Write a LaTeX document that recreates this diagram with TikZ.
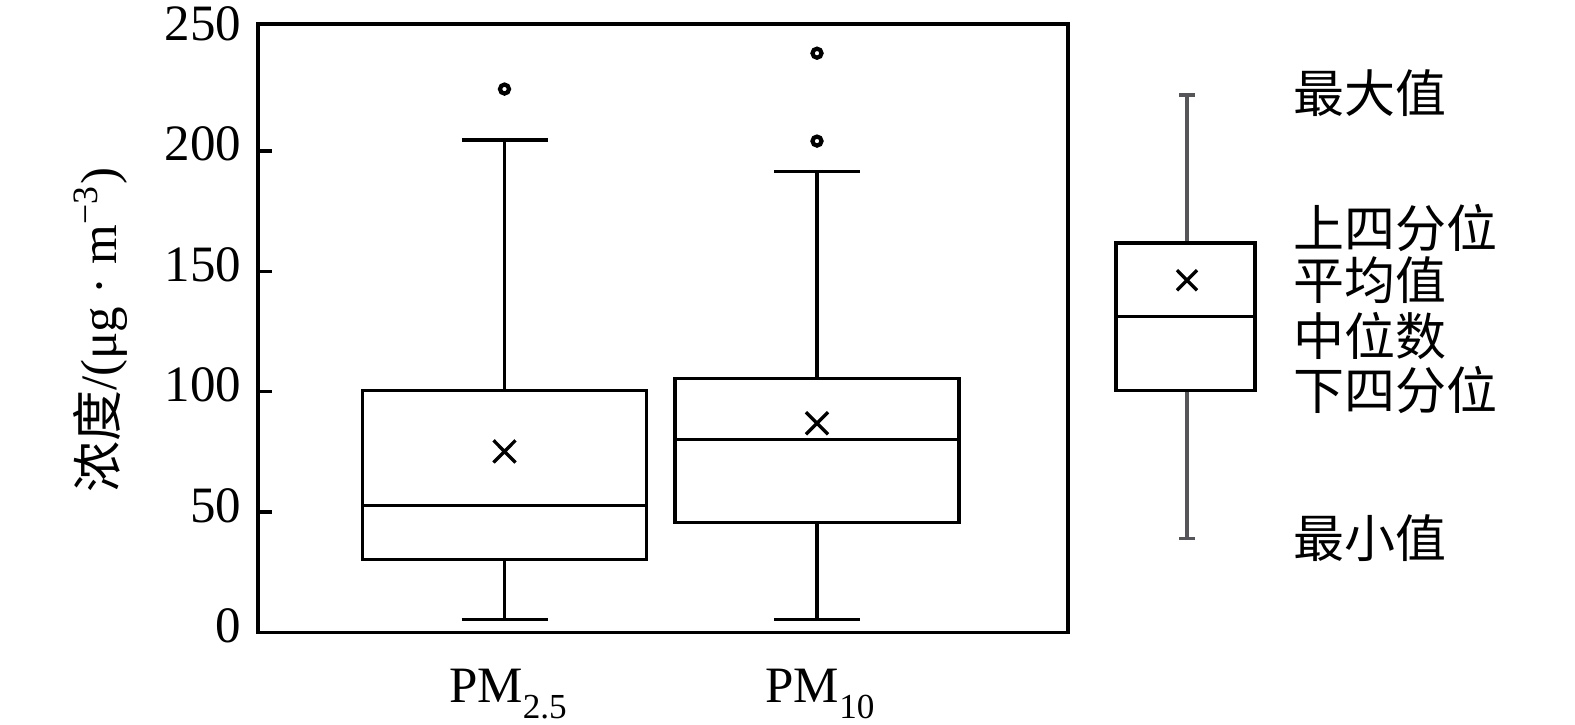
\documentclass[tikz,border=0pt]{standalone}
\usepackage{fontspec}
\setmainfont{Liberation Serif}
\newfontfamily\cjk{Noto Sans CJK SC}
\definecolor{whiskgray}{RGB}{85,85,90}

\begin{document}
\begin{tikzpicture}[x=0.01cm, y=0.02406cm, line width=0.95pt,
  lab/.style={font=\fontsize{14.5}{17}\selectfont, inner sep=0pt},
  leg/.style={font=\cjk\fontsize{14.5}{17}\selectfont, inner sep=0pt, anchor=west}]
\useasboundingbox (0,-38.2) rectangle (1575,262.7);
\coordinate (O) at (258,0);
\coordinate (T) at (1068,252.7);
\draw (O) rectangle (T);
\foreach \v in {50,100,150,200} \draw (258,\v)--(272,\v);
\foreach \v in {0,50,...,250} \node[lab, anchor=east] (tick\v) at (243,\v+2.8) {\v};
% boxes: name/x/min/q1/median/mean/q3/max
\foreach \n/\x/\lo/\qa/\md/\mn/\qb/\hi in {a/504.5/5.4/30.3/52.8/75.2/100.6/204.5, b/817/5.4/45.7/80.2/86.9/105.6/191.6}{
  \draw (\x-142,\qa) rectangle (\x+142,\qb);
  \draw (\x-142,\md)--(\x+142,\md);
  \draw (\x,\qa)--(\x,\lo) (\x-43,\lo)--(\x+43,\lo);
  \draw (\x,\qb)--(\x,\hi) (\x-43,\hi)--(\x+43,\hi);
  \draw (\x-11,\mn-4.6)--(\x+11,\mn+4.6) (\x-11,\mn+4.6)--(\x+11,\mn-4.6);
}
\foreach \x/\v in {504.5/225.7, 817/240.6, 817/204.1} \draw[line width=1.2pt] (\x,\v) circle[radius=0.045cm];
\node[lab, anchor=base] (pm25) at (508,-29.1) {PM\raisebox{-0.32em}{\fontsize{10}{12}\selectfont 2.5}};
\node[lab, anchor=base] (pm10) at (820,-29.1) {PM\raisebox{-0.32em}{\fontsize{10}{12}\selectfont 10}};
\node[lab, rotate=90] (ylab) at (100,125.5) {{\cjk 浓度}/(μg · m\textsuperscript{−3})};
% legend
\draw[whiskgray] (1187,161.7)--(1187,223.2) (1179,223.2)--(1195,223.2);
\draw[whiskgray] (1187,100.6)--(1187,39.1) (1179,39.1)--(1195,39.1);
\draw (1116,100.6) rectangle (1255,161.7);
\draw (1116,131.3)--(1255,131.3);
\draw (1177,146.3-4.2)--(1197,146.3+4.2) (1177,146.3+4.2)--(1197,146.3-4.2);
\node[leg] (lmax) at (1292,224) {最大值};
\node[leg] (lq3) at (1292,167.9) {上四分位};
\node[leg] (lmean) at (1292,146.3) {平均值};
\node[leg] (lmed) at (1292,123.2) {中位数};
\node[leg] (lq1) at (1292,100.6) {下四分位};
\node[leg] (lmin) at (1292,39.1) {最小值};
\end{tikzpicture}
\end{document}
